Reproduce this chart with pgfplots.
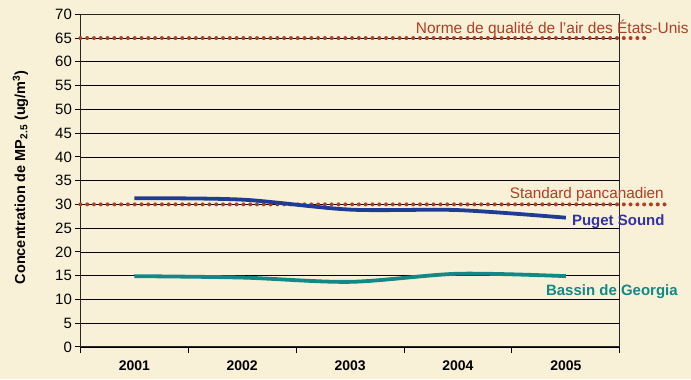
\documentclass[border=0pt]{standalone}
\usepackage{pgfplots}
\pgfplotsset{compat=1.18}
\usepackage{fontspec}
\setmainfont{Liberation Sans}
\usetikzlibrary{backgrounds}
\definecolor{bgc}{RGB}{249,241,215}
\definecolor{pugetc}{RGB}{30,60,150}
\definecolor{pugett}{RGB}{50,50,165}
\definecolor{georgc}{RGB}{20,135,135}
\definecolor{normc}{RGB}{175,62,35}
\begin{document}
\begin{tikzpicture}[x=1pt,y=1pt]
\begin{axis}[
  scale only axis, width=540pt, height=333pt,
  xmin=-0.5, xmax=4.5, ymin=0, ymax=70,
  clip=false,
  axis line style={black!85, line width=0.9pt},
  xtick={0,1,2,3,4},
  xticklabels={2001,2002,2003,2004,2005},
  x tick label style={font=\fontsize{14}{16}\selectfont\bfseries, yshift=-5pt},
  major x tick style={draw=none},
  minor xtick={-0.5,0.5,1.5,2.5,3.5,4.5},
  minor x tick style={black, line width=0.9pt},
  minor tick length=6pt,
  ytick={0,5,...,70},
  major tick length=5pt,
  y tick style={black, line width=0.9pt},
  y tick label style={font=\fontsize{15}{17}\selectfont},
  /pgf/number format/assume math mode=true,
  tick align=outside,
  xtick pos=bottom, ytick pos=left,
  ymajorgrids=true,
  grid style={black, line width=0.7pt},
  ylabel={\bfseries Concentration de MP\textsubscript{2.5} (ug/m\textsuperscript{3})},
  every axis y label/.style={at={(rel axis cs:-0.111,0.51)}, rotate=90, anchor=center, font=\fontsize{14.5}{16}\selectfont},
]
\begin{scope}[on background layer]
\fill[bgc] (rel axis cs:-0.149,-0.097) rectangle (rel axis cs:1.132,1.043);
\end{scope}
\addplot[normc, line width=4pt, line cap=round, dash pattern=on 0pt off 6.8pt] coordinates {(-0.5,65) (4.78,65)};
\addplot[normc, line width=4pt, line cap=round, dash pattern=on 0pt off 6.8pt] coordinates {(-0.5,30) (4.96,30)};
\addplot[pugetc, line width=3.8pt, smooth] coordinates {(0,31.3) (1,31.0) (2,28.9) (3,28.8) (4,27.2)};
\addplot[georgc, line width=3.8pt, smooth] coordinates {(0,14.9) (1,14.6) (2,13.7) (3,15.4) (4,14.9)};
\node[anchor=base east, text=normc, font=\fontsize{15.5}{17}\selectfont, inner sep=0pt] at (axis cs:5.14,66.0) {Norme de qualité de l’air des États-Unis};
\node[anchor=base west, text=normc, font=\fontsize{15.3}{17}\selectfont, inner sep=0pt] at (axis cs:3.48,31.3) {Standard pancanadien};
\node[anchor=base west, text=pugett, font=\fontsize{15}{17}\selectfont\bfseries, inner sep=0pt] at (axis cs:4.056,25.6) {Puget Sound};
\node[anchor=base west, text=georgc, font=\fontsize{15}{17}\selectfont\bfseries, inner sep=0pt] at (axis cs:3.815,10.9) {Bassin de Georgia};
\end{axis}
\end{tikzpicture}
\end{document}
